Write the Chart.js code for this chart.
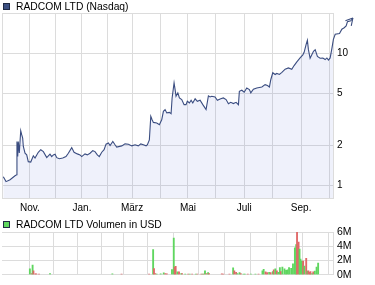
<!DOCTYPE html>
<html>
<head>
<meta charset="utf-8">
<script src="https://cdn.jsdelivr.net/npm/chart.js@4.4.1/dist/chart.umd.min.js"></script>
<style>
  body { margin: 0; background: #fff; font-family: "Liberation Sans", Arial, sans-serif; }
  #wrap { position: relative; width: 375px; height: 285px; overflow: hidden; }
  canvas { position: absolute; left: 0; }
  .box { position: absolute; left: 3px; width: 5px; height: 5px; border: 1px solid #1f2a44; }
  .lbl { position: absolute; left: 16px; font-size: 10.3px; line-height: 13px; color: #000; white-space: nowrap; }
</style>
</head>
<body>
<div id="wrap">
  <canvas id="price" width="375" height="214" style="top:0"></canvas>
  <canvas id="vol" width="375" height="71" style="top:214px"></canvas>
  <div class="box" style="top:3px;background:#3c5082"></div>
  <div class="lbl" style="top:0">RADCOM LTD (Nasdaq)</div>
  <div class="box" style="top:221px;background:#5fd65f"></div>
  <div class="lbl" style="top:218px">RADCOM LTD Volumen in USD</div>
</div>
<script>
// x axis is in trading days from the start of October
const monthDays = [21.5, 41.5, 61.5, 81.5, 100, 121.5, 143, 163.8, 186.2, 207.7, 230, 251.5];
const monthLabels = ['Nov.', '', 'Jan.', '', 'März', '', 'Mai', '', 'Juli', '', 'Sep.', ''];
const xEnd = 254.5;

// price (log scale)
const priceDays = [1.0, 3.1, 6.2, 10.0, 11.3, 11.5, 12.1, 12.5, 13.3, 14.4, 15.2, 15.9, 16.4, 17.7, 19.0, 20.2, 22.1, 24.1, 25.4, 27.9,
  29.8, 31.8, 34.4, 36.9, 38.2, 39.5, 40.8, 42.1, 44.1, 46.7, 49.2, 51.0, 53.6, 55.4, 57.9, 60.0, 61.3, 63.8, 65.6, 67.7,
  69.8, 71.5, 73.3, 74.8, 76.7, 78.5, 80.0, 81.8, 83.1, 85.2, 86.9, 88.2, 92.1, 94.6, 97.2, 99.8, 102.3, 104.8, 106.7, 108.7,
  110.8, 111.8, 113.3, 114.4, 115.4, 116.4, 119.0, 121.0, 122.8, 124.1, 125.4, 126.7, 128.7, 130.0, 130.8, 132.3, 133.1, 133.8, 135.2, 136.4,
  138.2, 140.0, 141.5, 142.5, 144.1, 145.4, 146.7, 148.5, 150.2, 152.3, 154.4, 156.9, 158.7, 160.0, 161.3, 163.8, 165.6, 168.2, 170.2, 172.3,
  174.1, 175.9, 177.9, 180.0, 181.8, 182.5, 184.4, 186.2, 188.2, 190.2, 191.3, 193.3, 195.9, 199.8, 202.3, 204.1, 205.6, 206.7, 208.2, 210.0,
  211.3, 213.3, 215.2, 217.7, 220.2, 222.8, 224.6, 226.7, 229.2, 231.3, 232.3, 233.8, 234.8, 235.6, 236.9, 238.2, 239.5, 240.8, 242.5, 244.6,
  246.7, 248.5, 249.8, 251.0, 252.3, 253.6, 254.8, 256.2, 259.5, 261.3, 263.1, 264.6, 265.6, 268.2, 269.8];
const prices = [1.16, 1.065, 1.10, 1.18, 1.20, 2.15, 1.65, 2.15, 1.76, 2.59, 2.41, 2.28, 1.97, 1.75, 1.70, 1.51, 1.50, 1.67, 1.61, 1.78,
  1.86, 1.80, 1.62, 1.72, 1.65, 1.70, 1.72, 1.62, 1.59, 1.61, 1.65, 1.75, 1.93, 1.78, 1.73, 1.70, 1.65, 1.73, 1.70, 1.75,
  1.83, 1.80, 1.70, 1.65, 1.78, 1.86, 2.05, 2.09, 2.00, 2.15, 2.03, 1.95, 1.99, 2.06, 2.05, 1.99, 2.03, 1.99, 2.06, 2.03,
  1.99, 2.03, 2.21, 3.33, 3.14, 3.00, 2.97, 2.88, 3.14, 3.64, 3.75, 3.54, 3.57, 3.49, 4.6, 5.99, 5.32, 4.74, 5.03, 4.6,
  4.47, 4.09, 4.09, 4.34, 4.21, 4.42, 4.21, 4.53, 4.34, 4.42, 4.09, 3.75, 4.77, 4.68, 4.74, 4.68, 4.42, 4.53, 4.6, 4.47,
  4.15, 4.26, 4.17, 4.26, 4.09, 5.16, 5.26, 5.08, 5.48, 5.32, 5.03, 5.35, 5.48, 5.57, 5.80, 5.71, 5.57, 6.35, 7.14, 6.93,
  7.06, 6.93, 7.2, 7.6, 7.77, 7.6, 8.1, 8.64, 9.25, 9.77, 10.2, 11.7, 12.6, 10.7, 9.2, 9.77, 10.4, 10.7, 9.5, 9.2,
  9.25, 9.0, 9.25, 8.92, 9.25, 10.85, 12.8, 14.0, 14.2, 15.3, 15.7, 16.2, 17.4, 17.7, 18.6];
const priceTicks = [1, 2, 5, 10];

// volume in millions USD, 1 = up day (green), 0 = down day (red)
const volDays = [11.8, 13.3, 14.1, 14.8, 16.4, 17.2, 19.5, 28.7, 81, 88.7, 111.8, 115.2, 115.9, 117, 118.2, 121.5, 124.1, 125.4, 126.7,
  131, 132.5, 133.3, 134.1, 135.6, 136.9, 138.7, 139.5, 142.1, 144.6, 145.9, 147.9, 151, 152.3, 155.6, 156.7, 157.5, 158.7, 160, 161.3, 162.1,
  172.8, 174.1, 179.2, 182.3, 183.3, 184.8, 185.9, 187.7, 188.7, 191, 192.1, 194.6, 197.2, 201, 203.6, 206.9, 207.9, 209.5, 210.8, 212.5,
  213.8, 215.6, 216.4, 217.7, 219, 220.2, 221.5, 222.3, 223.6, 225.4, 226.7, 227.9, 229.2, 231, 232.5, 234.1, 235.2, 235.9, 237.2, 238,
  238.8, 240, 241, 242.1, 243.6, 244.6, 245.4, 246.7, 247.2, 248.5, 249.5, 250.8, 252.3, 253.6];
const volumes = [0.81, 0.17, 1.36, 0.54, 0.13, 0.13, 0.10, 0.15, 0.13, 0.08, 0.1, 3.52, 0.86, 0.15, 0.1, 0.13, 0.27, 0.15, 0.12,
  0.72, 5.15, 1.08, 1.18, 0.4, 0.4, 0.15, 0.15, 0.1, 0.1, 0.1, 0.1, 0.1, 0.1, 0.1, 0.1, 0.1, 0.55, 0.15, 0.3, 0.15,
  0.13, 0.1, 0.1, 0.95, 0.55, 0.35, 0.15, 0.3, 0.15, 0.1, 0.1, 0.1, 0.1, 0.1, 0.1, 0.55, 0.77, 0.4, 0.3, 0.35,
  0.3, 0.45, 0.68, 0.81, 0.55, 0.35, 0.99, 0.45, 1.08, 0.81, 0.6, 0.68, 0.99, 0.9, 1.53, 3.79, 4.24, 6.0, 4.6, 3.6,
  2.2, 1.9, 1.9, 1.2, 2.3, 0.5, 0.55, 0.35, 0.45, 0.15, 0.4, 0.5, 1.08, 1.63];
const volUp = [1, 0, 1, 0, 0, 0, 0, 1, 1, 0, 0, 1, 0, 0, 1, 1, 1, 0, 0,
  1, 1, 0, 0, 1, 0, 1, 0, 1, 0, 1, 0, 1, 0, 0, 1, 0, 1, 0, 1, 0,
  0, 0, 0, 1, 0, 0, 1, 1, 0, 1, 1, 0, 1, 1, 0, 1, 1, 0, 0, 1,
  0, 1, 0, 1, 0, 1, 1, 0, 1, 1, 1, 1, 1, 1, 1, 1, 1, 0, 0, 1,
  1, 1, 0, 1, 0, 1, 0, 0, 0, 1, 0, 1, 1, 1];
const volTicks = [0, 2, 4, 6];

const gridColor = '#dcdcdc';
const tickFont = { family: 'Liberation Sans', size: 10 };

// gray box round the plot area
const frame = {
  id: 'frame',
  beforeDatasetsDraw(chart) {
    const a = chart.chartArea, ctx = chart.ctx;
    ctx.save();
    ctx.strokeStyle = gridColor;
    ctx.lineWidth = 1;
    ctx.strokeRect(Math.round(a.left) + 0.5, Math.round(a.top) + 0.5, Math.round(a.right - a.left), Math.round(a.bottom - a.top));
    ctx.restore();
  }
};

// arrow head on the last price point
const arrow = {
  id: 'arrow',
  afterDatasetsDraw(chart) {
    const pts = chart.getDatasetMeta(1).data;
    const tip = pts[pts.length - 1], back = pts[pts.length - 4];
    const ang = Math.atan2(tip.y - back.y, tip.x - back.x);
    const ctx = chart.ctx;
    ctx.save();
    ctx.strokeStyle = '#3b4d7e';
    ctx.lineWidth = 1.1;
    ctx.beginPath();
    [0.5, -0.5].forEach(d => {
      ctx.moveTo(tip.x, tip.y);
      ctx.lineTo(tip.x - 8 * Math.cos(ang + d), tip.y - 8 * Math.sin(ang + d));
    });
    ctx.stroke();
    ctx.restore();
  }
};

function xScale(showLabels) {
  return {
    type: 'linear',
    bounds: 'data',
    afterDataLimits: s => { s.min = 0; s.max = xEnd; },
    afterBuildTicks: s => { s.ticks = monthDays.map(v => ({ value: v })); },
    afterFit: s => { s.height = showLabels ? 16 : 0; },
    grid: { color: gridColor, drawTicks: false },
    border: { color: gridColor },
    ticks: {
      display: showLabels, padding: 4, autoSkip: false, maxRotation: 0,
      color: '#000', font: tickFont,
      callback: (v, i) => monthLabels[i]
    }
  };
}

const pricePts = priceDays.map((d, i) => ({ x: d, y: prices[i] }));

new Chart(document.getElementById('price'), {
  type: 'line',
  data: {
    datasets: [
      { data: pricePts, borderWidth: 0, backgroundColor: 'rgba(70,95,205,0.085)', fill: 'start', pointRadius: 0 },
      { data: pricePts, borderColor: '#3b4d7e', borderWidth: 1.1, fill: false, pointRadius: 0, clip: false }
    ]
  },
  options: {
    responsive: false,
    animation: false,
    layout: { padding: { top: 13, left: 2, right: 0, bottom: 0 } },
    plugins: { legend: { display: false }, tooltip: { enabled: false } },
    scales: {
      x: xScale(true),
      y: {
        type: 'logarithmic',
        position: 'right',
        min: 0.8,
        max: 20.3,
        bounds: 'data',
        afterBuildTicks: s => { s.ticks = priceTicks.map(v => ({ value: v })); },
        afterFit: s => { s.width = 42; },
        grid: { color: gridColor, drawTicks: false },
        border: { color: gridColor },
        ticks: { padding: 4, autoSkip: false, color: '#000', font: tickFont, callback: v => String(v) }
      }
    }
  },
  plugins: [frame, arrow]
});

new Chart(document.getElementById('vol'), {
  type: 'bar',
  data: {
    datasets: [{
      data: volDays.map((d, i) => ({ x: d, y: volumes[i] })),
      backgroundColor: volUp.map(u => u ? '#5fd65f' : '#e06868'),
      barThickness: 1.2
    }]
  },
  options: {
    responsive: false,
    animation: false,
    layout: { padding: { top: 18, left: 2, right: 0, bottom: 9 } },
    plugins: { legend: { display: false }, tooltip: { enabled: false } },
    scales: {
      x: xScale(false),
      y: {
        position: 'right',
        min: 0,
        max: 6,
        afterBuildTicks: s => { s.ticks = volTicks.map(v => ({ value: v })); },
        afterFit: s => { s.width = 42; },
        grid: { color: gridColor, drawTicks: false },
        border: { color: gridColor },
        ticks: { padding: 4, autoSkip: false, color: '#000', font: { family: 'Liberation Sans', size: 10.5 }, callback: v => v + 'M' }
      }
    }
  }
});
</script>
</body>
</html>
